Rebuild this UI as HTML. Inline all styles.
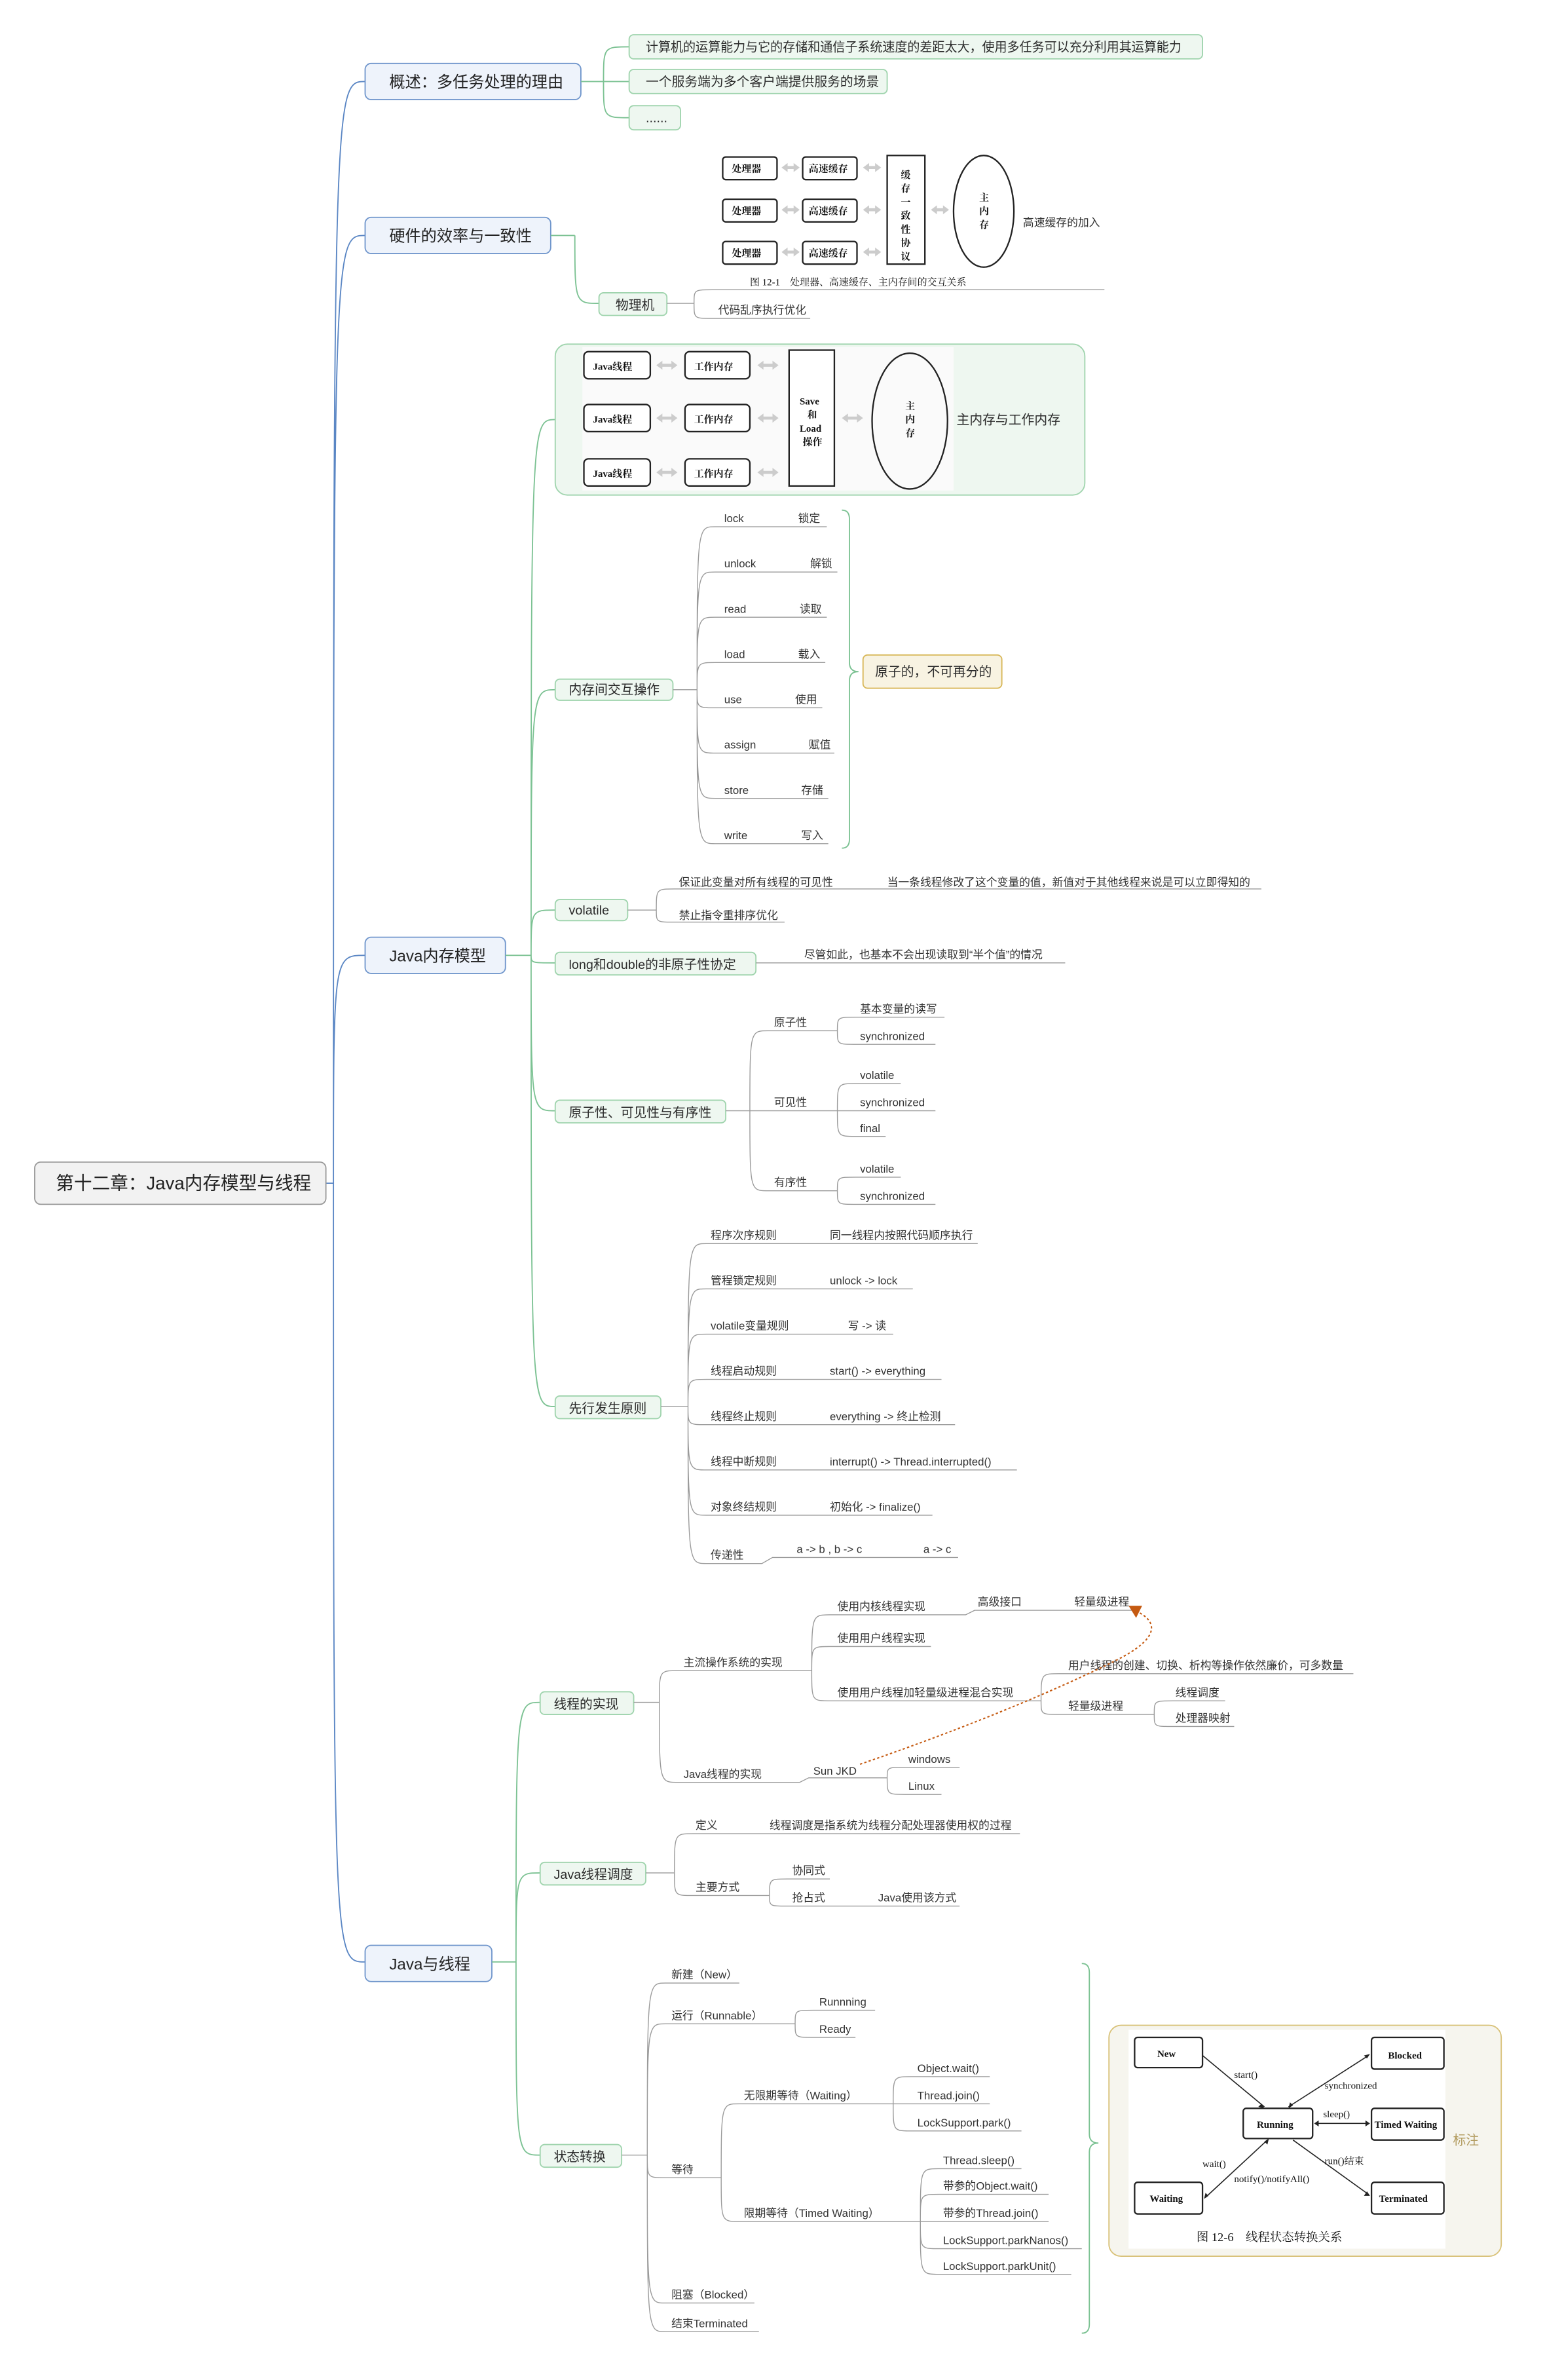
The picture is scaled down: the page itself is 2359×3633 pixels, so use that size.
<!DOCTYPE html>
<html><head><meta charset="utf-8"><style>
html,body{margin:0;padding:0;background:#fff;}
svg{display:block}
text{font-family:"Liberation Sans","Noto Sans CJK SC",sans-serif;fill:#333;}
.l{font-size:7.3px}
.g{font-size:8.6px;fill:#2b2b2b}
.m{font-size:10.5px;fill:#222}
.ln{fill:none;stroke:#9a9a9a;stroke-width:0.6}
.gl{fill:none;stroke:#7cc293;stroke-width:0.8}
.bl{fill:none;stroke:#5a86c4;stroke-width:0.8}
.gb{fill:#eef7f0;stroke:#9fd4ad;stroke-width:0.8}
.mb{fill:#eef3fb;stroke:#7096cc;stroke-width:0.8}
.fb{fill:#fff;stroke:#222;stroke-width:1}
.ft{font-family:"Liberation Serif","Noto Serif CJK SC",serif;font-size:6.5px;fill:#111;font-weight:bold}
</style></head><body>
<svg width="2359" height="3633" viewBox="0 0 1024 1577" xmlns="http://www.w3.org/2000/svg">
<rect width="1024" height="1577" fill="#fff"/>
<path class="bl" d="M216,784 H221 M221,784 C221,54 221,54 242,54 M221,784 C221,156 221,156 242,156 M221,784 C221,633 221,633 242,633 M221,784 C221,1300 221,1300 242,1300"/>
<rect x="23" y="770" width="193" height="28" rx="4" fill="#f2f2f2" stroke="#9a9a9a" stroke-width="0.8"/>
<text class="m" x="37" y="788" style="font-size:12px">第十二章：Java内存模型与线程</text>

<rect class="mb" x="242" y="42" width="143" height="24" rx="4"/><text class="m" x="258" y="58">概述：多任务处理的理由</text>
<rect class="mb" x="242" y="144" width="123" height="24" rx="4"/><text class="m" x="258" y="160">硬件的效率与一致性</text>
<rect class="mb" x="242" y="621" width="93" height="24" rx="4"/><text class="m" x="258" y="637">Java内存模型</text>
<rect class="mb" x="242" y="1289" width="84" height="24" rx="4"/><text class="m" x="258" y="1305">Java与线程</text>

<path class="gl" d="M385,54 H400 M400,54 C400,31 400,31 417,31 M400,54 H417 M400,54 C400,78 400,78 417,78"/>
<rect class="gb" x="417" y="23" width="380" height="16" rx="3"/><text class="g" x="428" y="34" textLength="355" lengthAdjust="spacingAndGlyphs">计算机的运算能力与它的存储和通信子系统速度的差距太大，使用多任务可以充分利用其运算能力</text>
<rect class="gb" x="417" y="46" width="171" height="16" rx="3"/><text class="g" x="428" y="57">一个服务端为多个客户端提供服务的场景</text>
<rect class="gb" x="417" y="70" width="34" height="16" rx="3"/><text class="g" x="428" y="81">......</text>

<path class="gl" d="M365,156 H381 M381,156 C381,201 381,201 397,201"/>
<rect class="gb" x="397" y="194" width="45" height="15" rx="3"/><text class="g" x="408" y="205">物理机</text>
<path class="ln" d="M442,201 H460 M460,201 C460,192 460,192 472,192 H732 M460,201 C460,211 460,211 472,211 H537"/>
<text class="l" x="476" y="208">代码乱序执行优化</text>
<g>
<rect class="fb" x="479" y="104" width="36" height="15" rx="2"/><text class="ft" x="485" y="114">处理器</text>
<rect class="fb" x="479" y="132" width="36" height="15" rx="2"/><text class="ft" x="485" y="142">处理器</text>
<rect class="fb" x="479" y="160" width="36" height="15" rx="2"/><text class="ft" x="485" y="170">处理器</text>
<rect class="fb" x="532" y="104" width="36" height="15" rx="2"/><text class="ft" x="536" y="114">高速缓存</text>
<rect class="fb" x="532" y="132" width="36" height="15" rx="2"/><text class="ft" x="536" y="142">高速缓存</text>
<rect class="fb" x="532" y="160" width="36" height="15" rx="2"/><text class="ft" x="536" y="170">高速缓存</text>
<rect class="fb" x="588" y="103" width="25" height="72"/>
<text class="ft" x="597" y="118">缓</text><text class="ft" x="597" y="127">存</text><text class="ft" x="597" y="136">一</text><text class="ft" x="597" y="145">致</text><text class="ft" x="597" y="154">性</text><text class="ft" x="597" y="163">协</text><text class="ft" x="597" y="172">议</text>
<ellipse cx="652" cy="140" rx="20" ry="37" fill="#fff" stroke="#222" stroke-width="1"/>
<text class="ft" x="649" y="133">主</text><text class="ft" x="649" y="142">内</text><text class="ft" x="649" y="151">存</text>
<g fill="#ccc"><path d="M518,111 l4,-3 v2 h4 v-2 l4,3 -4,3 v-2 h-4 v2z M518,139 l4,-3 v2 h4 v-2 l4,3 -4,3 v-2 h-4 v2z M518,167 l4,-3 v2 h4 v-2 l4,3 -4,3 v-2 h-4 v2z M572,111 l4,-3 v2 h4 v-2 l4,3 -4,3 v-2 h-4 v2z M572,139 l4,-3 v2 h4 v-2 l4,3 -4,3 v-2 h-4 v2z M572,167 l4,-3 v2 h4 v-2 l4,3 -4,3 v-2 h-4 v2z M617,139 l4,-3 v2 h4 v-2 l4,3 -4,3 v-2 h-4 v2z"/></g>
<text class="ft" x="497" y="189" style="font-weight:normal">图 12-1　处理器、高速缓存、主内存间的交互关系</text>
<text class="l" x="678" y="150">高速缓存的加入</text>
</g>

<path class="gl" d="M335,633 H352 M352,633 C352,278 352,278 368,278 M352,633 C352,457 352,457 368,457 M352,633 C352,603 352,603 368,603 M352,633 C352,638 352,638 368,638 M352,633 C352,736 352,736 368,736 M352,633 C352,932 352,932 368,932"/>
<rect class="gb" x="368" y="228" width="351" height="100" rx="8"/>
<rect x="386" y="230" width="246" height="95" fill="#fafafa"/>
<g>
<rect class="fb" x="387" y="233" width="44" height="18" rx="3"/><text class="ft" x="393" y="245">Java线程</text>
<rect class="fb" x="387" y="268" width="44" height="18" rx="3"/><text class="ft" x="393" y="280">Java线程</text>
<rect class="fb" x="387" y="304" width="44" height="18" rx="3"/><text class="ft" x="393" y="316">Java线程</text>
<rect class="fb" x="454" y="233" width="43" height="18" rx="3"/><text class="ft" x="460" y="245">工作内存</text>
<rect class="fb" x="454" y="268" width="43" height="18" rx="3"/><text class="ft" x="460" y="280">工作内存</text>
<rect class="fb" x="454" y="304" width="43" height="18" rx="3"/><text class="ft" x="460" y="316">工作内存</text>
<rect class="fb" x="523" y="232" width="30" height="90"/>
<text class="ft" x="530" y="268">Save</text><text class="ft" x="535" y="277">和</text><text class="ft" x="530" y="286">Load</text><text class="ft" x="532" y="295">操作</text>
<ellipse cx="603" cy="279" rx="25" ry="45" fill="none" stroke="#222" stroke-width="1"/>
<text class="ft" x="600" y="271">主</text><text class="ft" x="600" y="280">内</text><text class="ft" x="600" y="289">存</text>
<g fill="#ccc"><path d="M435,242 l4,-3 v2 h6 v-2 l4,3 -4,3 v-2 h-6 v2z M435,277 l4,-3 v2 h6 v-2 l4,3 -4,3 v-2 h-6 v2z M435,313 l4,-3 v2 h6 v-2 l4,3 -4,3 v-2 h-6 v2z M502,242 l4,-3 v2 h6 v-2 l4,3 -4,3 v-2 h-6 v2z M502,277 l4,-3 v2 h6 v-2 l4,3 -4,3 v-2 h-6 v2z M502,313 l4,-3 v2 h6 v-2 l4,3 -4,3 v-2 h-6 v2z M558,277 l4,-3 v2 h6 v-2 l4,3 -4,3 v-2 h-6 v2z"/></g>
</g>
<text class="g" x="634" y="281">主内存与工作内存</text>

<rect class="gb" x="368" y="450" width="78" height="14" rx="3"/><text class="g" x="377" y="460">内存间交互操作</text>
<path class="ln" d="M446,457 H462 M462,457 C462,349 462,349 474,349 H548 M462,457 C462,379 462,379 474,379 H555 M462,457 C462,409 462,409 474,409 H548 M462,457 C462,439 462,439 474,439 H547 M462,457 C462,469 462,469 474,469 H545 M462,457 C462,499 462,499 474,499 H553 M462,457 C462,529 462,529 474,529 H549 M462,457 C462,559 462,559 474,559 H549"/>
<text class="l" x="480" y="346">lock</text><text class="l" x="529" y="346">锁定</text>
<text class="l" x="480" y="376">unlock</text><text class="l" x="537" y="376">解锁</text>
<text class="l" x="480" y="406">read</text><text class="l" x="530" y="406">读取</text>
<text class="l" x="480" y="436">load</text><text class="l" x="529" y="436">载入</text>
<text class="l" x="480" y="466">use</text><text class="l" x="527" y="466">使用</text>
<text class="l" x="480" y="496">assign</text><text class="l" x="536" y="496">赋值</text>
<text class="l" x="480" y="526">store</text><text class="l" x="531" y="526">存储</text>
<text class="l" x="480" y="556">write</text><text class="l" x="531" y="556">写入</text>
<path class="gl" d="M558,338 Q563,338 563,344 V439 Q563,445 569,445 Q563,445 563,451 V556 Q563,562 558,562"/>
<rect x="572" y="434" width="92" height="22" rx="3" fill="#f8f3e2" stroke="#d8b758" stroke-width="0.8"/>
<text class="g" x="580" y="448">原子的，不可再分的</text>

<rect class="gb" x="368" y="596" width="48" height="14" rx="3"/><text class="g" x="377" y="606">volatile</text>
<path class="ln" d="M416,603 H435 M435,603 C435,589 435,589 447,589 H836 M435,603 C435,611 435,611 447,611 H520"/>
<text class="l" x="450" y="587">保证此变量对所有线程的可见性</text>
<text class="l" x="588" y="587">当一条线程修改了这个变量的值，新值对于其他线程来说是可以立即得知的</text>
<text class="l" x="450" y="609">禁止指令重排序优化</text>

<rect class="gb" x="368" y="631" width="133" height="15" rx="3"/><text class="g" x="377" y="642">long和double的非原子性协定</text>
<path class="ln" d="M501,638 H706"/>
<text class="l" x="533" y="635">尽管如此，也基本不会出现读取到“半个值”的情况</text>

<rect class="gb" x="368" y="729" width="113" height="15" rx="3"/><text class="g" x="377" y="740">原子性、可见性与有序性</text>
<path class="ln" d="M481,736 H497 M497,736 C497,683 497,683 509,683 H540 M497,736 H540 M497,736 C497,789 497,789 509,789 H540
M540,683 H555 M555,683 C555,674 555,674 567,674 H626 M555,683 C555,692 555,692 567,692 H620
M540,736 H555 M555,736 C555,718 555,718 567,718 H597 M555,736 H620 M555,736 C555,753 555,753 567,753 H587
M540,789 H555 M555,789 C555,780 555,780 567,780 H597 M555,789 C555,798 555,798 567,798 H620"/>
<text class="l" x="513" y="680">原子性</text><text class="l" x="513" y="733">可见性</text><text class="l" x="513" y="786">有序性</text>
<text class="l" x="570" y="671">基本变量的读写</text><text class="l" x="570" y="689">synchronized</text>
<text class="l" x="570" y="715">volatile</text><text class="l" x="570" y="733">synchronized</text><text class="l" x="570" y="750">final</text>
<text class="l" x="570" y="777">volatile</text><text class="l" x="570" y="795">synchronized</text>

<rect class="gb" x="368" y="925" width="70" height="15" rx="3"/><text class="g" x="377" y="936">先行发生原则</text>
<path class="ln" d="M438,932 H456 M456,932 C456,824 456,824 468,824 H648 M456,932 C456,854 456,854 468,854 H605 M456,932 C456,884 456,884 468,884 H592 M456,932 C456,914 456,914 468,914 H624 M456,932 C456,944 456,944 468,944 H633 M456,932 C456,974 456,974 468,974 H674 M456,932 C456,1004 456,1004 468,1004 H618 M456,932 C456,1036 456,1036 468,1036 H505 L512,1032 H635"/>
<text class="l" x="471" y="821">程序次序规则</text><text class="l" x="550" y="821">同一线程内按照代码顺序执行</text>
<text class="l" x="471" y="851">管程锁定规则</text><text class="l" x="550" y="851">unlock -&gt; lock</text>
<text class="l" x="471" y="881">volatile变量规则</text><text class="l" x="562" y="881">写 -&gt; 读</text>
<text class="l" x="471" y="911">线程启动规则</text><text class="l" x="550" y="911">start() -&gt; everything</text>
<text class="l" x="471" y="941">线程终止规则</text><text class="l" x="550" y="941">everything -&gt; 终止检测</text>
<text class="l" x="471" y="971">线程中断规则</text><text class="l" x="550" y="971">interrupt() -&gt; Thread.interrupted()</text>
<text class="l" x="471" y="1001">对象终结规则</text><text class="l" x="550" y="1001">初始化 -&gt; finalize()</text>
<text class="l" x="471" y="1033">传递性</text><text class="l" x="528" y="1029">a -&gt; b , b -&gt; c</text><text class="l" x="612" y="1029">a -&gt; c</text>

<path class="gl" d="M326,1300 H342 M342,1300 C342,1128 342,1128 358,1128 M342,1300 C342,1241 342,1241 358,1241 M342,1300 C342,1428 342,1428 358,1428"/>

<rect class="gb" x="358" y="1121" width="62" height="15" rx="3"/><text class="g" x="367" y="1132">线程的实现</text>
<path class="ln" d="M420,1128 H437 M437,1128 C437,1107 437,1107 449,1107 H538 M437,1128 C437,1181 437,1181 449,1181 H530 L536,1178 H588
M538,1107 C538,1070 538,1070 550,1070 H640 L646,1067 H752 M538,1107 C538,1091 538,1091 550,1091 H617 M538,1107 C538,1127 538,1127 550,1127 H690
M690,1127 C690,1109 690,1109 702,1109 H897 M690,1127 C690,1136 690,1136 702,1136 H765
M765,1136 C765,1127 765,1127 777,1127 H812 M765,1136 C765,1144 765,1144 777,1144 H818
M588,1178 C588,1171 588,1171 600,1171 H636 M588,1178 C588,1189 588,1189 600,1189 H624"/>
<text class="l" x="453" y="1104">主流操作系统的实现</text>
<text class="l" x="453" y="1178">Java线程的实现</text>
<text class="l" x="539" y="1176">Sun JKD</text>
<text class="l" x="555" y="1067">使用内核线程实现</text><text class="l" x="648" y="1064">高级接口</text><text class="l" x="712" y="1064">轻量级进程</text>
<text class="l" x="555" y="1088">使用用户线程实现</text>
<text class="l" x="555" y="1124">使用用户线程加轻量级进程混合实现</text>
<text class="l" x="708" y="1106">用户线程的创建、切换、析构等操作依然廉价，可多数量</text>
<text class="l" x="708" y="1133">轻量级进程</text>
<text class="l" x="779" y="1124">线程调度</text><text class="l" x="779" y="1141">处理器映射</text>
<text class="l" x="602" y="1168">windows</text><text class="l" x="602" y="1186">Linux</text>
<path d="M570,1169 C640,1145 700,1120 740,1100 C768,1086 768,1075 754,1068" fill="none" stroke="#c55a11" stroke-width="0.9" stroke-dasharray="1.5,1.5"/>
<path d="M748,1064 L757,1064 L753,1072 Z" fill="#c55a11"/>

<rect class="gb" x="358" y="1234" width="70" height="15" rx="3"/><text class="g" x="367" y="1245">Java线程调度</text>
<path class="ln" d="M428,1241 H447 M447,1241 C447,1215 447,1215 459,1215 H676 M447,1241 C447,1256 447,1256 459,1256 H510
M510,1256 C510,1245 510,1245 522,1245 H550 M510,1256 C510,1263 510,1263 522,1263 H636"/>
<text class="l" x="461" y="1212">定义</text><text class="l" x="510" y="1212">线程调度是指系统为线程分配处理器使用权的过程</text>
<text class="l" x="461" y="1253">主要方式</text>
<text class="l" x="525" y="1242">协同式</text><text class="l" x="525" y="1260">抢占式</text><text class="l" x="582" y="1260">Java使用该方式</text>

<rect class="gb" x="358" y="1421" width="54" height="15" rx="3"/><text class="g" x="367" y="1432">状态转换</text>
<path class="ln" d="M412,1428 H429 M429,1428 C429,1314 429,1314 441,1314 H490 M429,1428 C429,1341 429,1341 441,1341 H527 M429,1428 C429,1443 429,1443 441,1443 H478 M429,1428 C429,1526 429,1526 441,1526 H500 M429,1428 C429,1545 429,1545 441,1545 H503
M527,1341 C527,1332 527,1332 539,1332 H580 M527,1341 C527,1350 527,1350 539,1350 H567
M478,1443 C478,1394 478,1394 490,1394 H592 M478,1443 C478,1472 478,1472 490,1472 H610
M592,1394 C592,1376 592,1376 604,1376 H656 M592,1394 H656 M592,1394 C592,1412 592,1412 604,1412 H677
M610,1472 C610,1437 610,1437 622,1437 H677 M610,1472 C610,1454 610,1454 622,1454 H695 M610,1472 H695 M610,1472 C610,1490 610,1490 622,1490 H717 M610,1472 C610,1507 610,1507 622,1507 H710"/>
<text class="l" x="445" y="1311">新建（New）</text>
<text class="l" x="445" y="1338">运行（Runnable）</text>
<text class="l" x="543" y="1329">Runnning</text><text class="l" x="543" y="1347">Ready</text>
<text class="l" x="445" y="1440">等待</text>
<text class="l" x="493" y="1391">无限期等待（Waiting）</text>
<text class="l" x="608" y="1373">Object.wait()</text><text class="l" x="608" y="1391">Thread.join()</text><text class="l" x="608" y="1409">LockSupport.park()</text>
<text class="l" x="493" y="1469">限期等待（Timed Waiting）</text>
<text class="l" x="625" y="1434">Thread.sleep()</text><text class="l" x="625" y="1451">带参的Object.wait()</text><text class="l" x="625" y="1469">带参的Thread.join()</text><text class="l" x="625" y="1487">LockSupport.parkNanos()</text><text class="l" x="625" y="1504">LockSupport.parkUnit()</text>
<text class="l" x="445" y="1523">阻塞（Blocked）</text>
<text class="l" x="445" y="1542">结束Terminated</text>
<path class="gl" d="M717,1301 Q722,1301 722,1307 V1414 Q722,1420 728,1420 Q722,1420 722,1426 V1540 Q722,1546 717,1546"/>

<rect x="735" y="1342" width="260" height="153" rx="8" fill="#f6f5ee" stroke="#d9c27a" stroke-width="0.8"/>
<rect x="748" y="1345" width="210" height="145" fill="#fff"/>
<g>
<rect class="fb" x="752" y="1350" width="45" height="20" rx="2"/><text class="ft" x="767" y="1363">New</text>
<rect class="fb" x="909" y="1350" width="48" height="21" rx="2"/><text class="ft" x="920" y="1364">Blocked</text>
<rect class="fb" x="824" y="1397" width="46" height="20" rx="2"/><text class="ft" x="833" y="1410">Running</text>
<rect class="fb" x="909" y="1397" width="48" height="21" rx="2"/><text class="ft" x="911" y="1410">Timed Waiting</text>
<rect class="fb" x="752" y="1446" width="45" height="21" rx="2"/><text class="ft" x="762" y="1459">Waiting</text>
<rect class="fb" x="909" y="1446" width="48" height="21" rx="2"/><text class="ft" x="914" y="1459">Terminated</text>
<g stroke="#222" stroke-width="0.7" fill="none">
<path d="M797,1362 L838,1396"/><path d="M854,1396 L907,1362"/><path d="M872,1407 H907"/><path d="M840,1418 L799,1456"/><path d="M857,1418 L907,1454"/>
</g>
<g fill="#222">
<path d="M838,1397 l-4,-1 l2,-2z"/><path d="M854,1397 l1,-4 l2,2z"/><path d="M908,1361 l-4,1 l2,2z"/><path d="M908,1407 l-3,-2 v4z"/><path d="M871,1407 l3,-2 v4z"/><path d="M798,1457 l1,-4 l2,2z"/><path d="M841,1417 l-1,4 l-2,-2z"/><path d="M908,1455 l-4,0 l2,-3z"/>
</g>
<text class="ft" x="818" y="1377" style="font-weight:normal">start()</text>
<text class="ft" x="878" y="1384" style="font-weight:normal">synchronized</text>
<text class="ft" x="877" y="1403" style="font-weight:normal">sleep()</text>
<text class="ft" x="797" y="1436" style="font-weight:normal">wait()</text>
<text class="ft" x="878" y="1434" style="font-weight:normal">run()结束</text>
<text class="ft" x="818" y="1446" style="font-weight:normal">notify()/notifyAll()</text>
<text class="ft" x="793" y="1485" style="font-size:8px;font-weight:normal">图 12-6　线程状态转换关系</text>
</g>
<text class="g" x="963" y="1421" style="fill:#b29b5e">标注</text>
</svg>
</body></html>
